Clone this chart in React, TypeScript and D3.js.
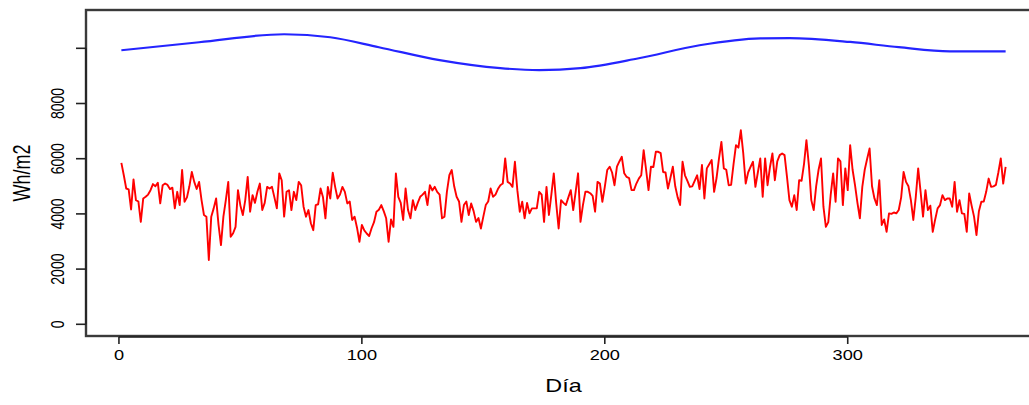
import React from "react";
import * as d3 from "d3";

const measured = [
  5850, 5400, 4920, 4890, 4160, 5250, 4500, 4450, 3710, 4560,
  4620, 4700, 4860, 5080, 5000, 5130, 4380, 5040, 5100, 5050,
  4900, 4950, 4200, 4800, 4320, 5590, 4440, 4600, 5000, 5520,
  5160, 4900, 5160, 4500, 3960, 3900, 2330, 3900, 4200, 4560,
  3600, 2870, 3900, 4500, 5160, 3170, 3300, 3530, 4860, 4300,
  3960, 4500, 5340, 4080, 4680, 4400, 4800, 5100, 4140, 4400,
  4980, 4920, 4980, 4600, 4200, 5470, 5220, 3900, 4800, 4860,
  4140, 4800, 4500, 5160, 5040, 4260, 3900, 4140, 3660, 3410,
  4320, 4350, 4920, 4600, 3840, 4980, 4560, 5490, 4980, 4560,
  4700, 4980, 4800, 4380, 4450, 3780, 3900, 3500, 2990, 3600,
  3400, 3290, 3200, 3480, 3700, 4080, 4150, 4320, 4100, 3840,
  2990, 3800, 3530, 5470, 4620, 4400, 3780, 4920, 4140, 3840,
  4500, 4140, 4400, 4620, 4700, 4800, 4320, 5040, 4850, 4980,
  4800, 4700, 3840, 3900, 4800, 5400, 5590, 5000, 4620, 4450,
  3710, 4320, 4450, 3960, 4380, 4100, 3710, 3850, 3470, 3900,
  4320, 4450, 4920, 4620, 4700, 4900, 5040, 5100, 6010, 5160,
  5100, 4980, 5890, 4860, 4080, 4440, 3840, 4400, 4020, 4200,
  4200, 4200, 4800, 4700, 3710, 4980, 3960, 4700, 5470, 4380,
  3470, 4500, 4400, 4320, 4600, 4860, 4140, 4800, 5470, 3710,
  4320, 4800, 4800, 4750, 4650, 4080, 5160, 5100, 4440, 4980,
  5590, 5710, 5500, 5040, 5710, 5900, 6070, 5470, 5340, 5300,
  4860, 4860, 5100, 5280, 5400, 6310, 5600, 4860, 5710, 5700,
  6250, 6250, 6200, 5520, 5500, 4920, 5300, 5710, 5000, 4600,
  4320, 5890, 5400, 5200, 4980, 5000, 5200, 5400, 4900, 5770,
  4560, 5650, 5800, 5950, 4800, 5300, 6000, 6610, 5650, 5600,
  5040, 5050, 5800, 6490, 6400, 7030, 6190, 5100, 5500, 5700,
  5890, 4980, 5500, 6010, 4620, 6010, 5040, 5700, 6190, 5220,
  5900, 6130, 6190, 6130, 5340, 4500, 4260, 4680, 4140, 5220,
  5200, 5800, 6670, 5770, 4500, 4140, 5000, 5600, 6010, 4260,
  3530, 3700, 4700, 5470, 4440, 6010, 5900, 4320, 5650, 4860,
  6490, 5600, 5040, 4400, 3840, 4980, 5600, 6000, 6370, 5000,
  4560, 4320, 5220, 3600, 3800, 3350, 4020, 4000, 4050, 4020,
  4140, 4600, 5520, 5160, 5000, 4500, 3780, 4600, 5650, 4800,
  3900, 4860, 4140, 4300, 3350, 3800, 4200, 4320, 4680, 4500,
  4560, 4560, 4260, 5160, 4080, 4500, 4020, 4000, 3350, 4740,
  4300, 3900, 3230, 4100, 4440, 4450, 4800, 5280, 4980, 5000,
  5050, 5500, 6010, 5100, 5700,
];

// smooth reference curve, sampled at a few days
const refDays = [1, 33, 68, 87, 107, 132, 157, 173, 190, 214, 239, 264, 276, 301, 321, 342, 365];
const refValues = [9930, 10220, 10510, 10400, 10040, 9570, 9280, 9210, 9280, 9640, 10110, 10360, 10370, 10230, 10040, 9890, 9890];

const xTicks = [0, 100, 200, 300];
const yTicks = [0, 2000, 4000, 6000, 8000, 10000];
const yTickLabels = ["0", "2000", "4000", "6000", "8000", ""];

const W = 1029;
const H = 405;
const FONT = "'Liberation Sans', Arial, Helvetica, sans-serif";
const SX = 1.3; // the picture is stretched sideways

export default function App() {
  const x = d3.scaleLinear().domain([-13.56, 379.56]).range([86, 1041]);
  const y = d3.scaleLinear().domain([-424, 11388]).range([336, 10]);

  const redLine = d3
    .line<number>()
    .x((_, i) => x(i + 1))
    .y((d) => y(d));

  const blueLine = d3
    .line<number>()
    .x((_, i) => x(refDays[i]))
    .y((d) => y(d))
    .curve(d3.curveMonotoneX);

  const [x0, x1] = x.range();
  const [yb, yt] = y.range();

  return (
    <svg
      width={W}
      height={H}
      style={{ position: "absolute", left: 0, top: 0, background: "#fff" }}
    >
      {/* plot box */}
      <rect x={x0} y={yt} width={x1 - x0} height={yb - yt} fill="none" stroke="#3a3a3a" strokeWidth={2.4} />

      {/* data */}
      <path d={blueLine(refValues) || ""} fill="none" stroke="#2424ff" strokeWidth={2.2} />
      <path d={redLine(measured) || ""} fill="none" stroke="#ff0000" strokeWidth={1.9} strokeLinejoin="round" />

      {/* x axis */}
      <line x1={x(xTicks[0])} x2={x(xTicks[xTicks.length - 1])} y1={yb + 1} y2={yb + 1} stroke="#222" strokeWidth={1.6} />
      {xTicks.map((t) => (
        <g key={t}>
          <line x1={x(t)} x2={x(t)} y1={yb + 1} y2={yb + 8} stroke="#222" strokeWidth={1.6} />
          <text
            transform={`translate(${x(t)},${355}) scale(${SX},1)`}
            textAnchor="middle"
            dominantBaseline="central"
            fontFamily={FONT}
            fontSize={14}
            fill="#000"
          >
            {t}
          </text>
        </g>
      ))}
      <text
        transform={`translate(${(x0 + x1) / 2},${386}) scale(${SX},1)`}
        textAnchor="middle"
        dominantBaseline="central"
        fontFamily={FONT}
        fontSize={18}
        fill="#000"
      >
        Día
      </text>

      {/* y axis */}
      <line x1={x0} x2={x0} y1={y(0)} y2={y(10000)} stroke="#222" strokeWidth={1.6} />
      {yTicks.map((t, i) => (
        <g key={t}>
          <line x1={x0 - 10} x2={x0} y1={y(t)} y2={y(t)} stroke="#222" strokeWidth={1.6} />
          <text
            transform={`translate(57,${y(t)}) scale(${SX},1) rotate(-90)`}
            textAnchor="middle"
            dominantBaseline="central"
            fontFamily={FONT}
            fontSize={14}
            fill="#000"
          >
            {yTickLabels[i]}
          </text>
        </g>
      ))}
      <text
        transform={`translate(22,${(yb + yt) / 2}) scale(${SX},1) rotate(-90)`}
        textAnchor="middle"
        dominantBaseline="central"
        fontFamily={FONT}
        fontSize={18}
        fill="#000"
      >
        Wh/m2
      </text>
    </svg>
  );
}
